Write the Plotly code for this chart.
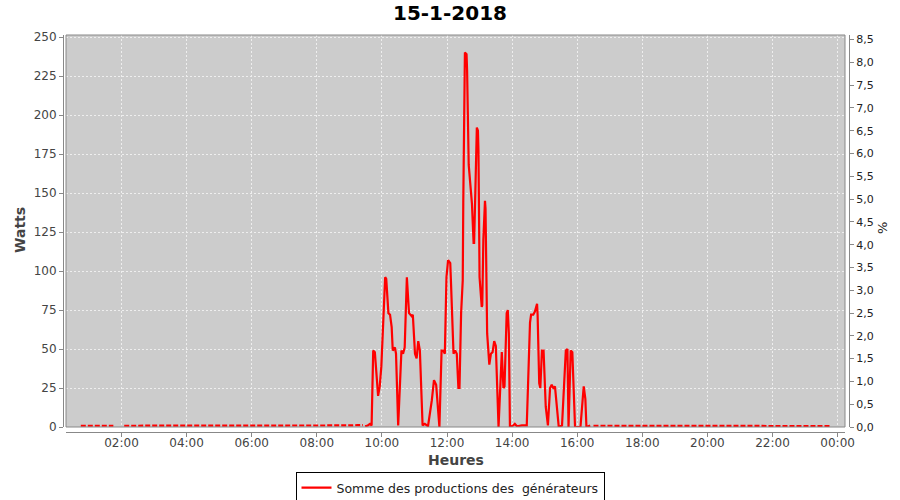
import pandas as pd
import plotly.graph_objects as go

# ---------------- data ----------------
day_times = ["09:29","09:34","09:38","09:41","09:44","09:47","09:53","09:56","09:59","10:03",
             "10:06","10:08","10:12","10:15","10:18","10:20","10:24","10:26","10:30","10:36",
             "10:39","10:42","10:46","10:50","10:55","10:57","11:01","11:04","11:07","11:10",
             "11:15","11:19","11:25","11:32","11:36","11:40","11:46","11:50","11:53","11:56",
             "11:59","12:02","12:06","12:07","12:10","12:12","12:15","12:18","12:21","12:23",
             "12:26","12:29","12:30","12:33","12:36","12:37","12:40","12:44","12:46","12:49",
             "12:50","12:54","12:55","12:57","12:58","13:00","13:02","13:04","13:05","13:07",
             "13:10","13:11","13:14","13:16","13:18","13:21","13:24","13:27","13:30","13:35",
             "13:41","13:44","13:46","13:50","13:52","13:54","13:56","14:02","14:05","14:09",
             "14:18","14:27","14:33","14:35","14:39","14:42","14:46","14:47","14:50","14:52",
             "14:55","14:58","15:02","15:06","15:10","15:13","15:16","15:19","15:26","15:32",
             "15:39","15:42","15:44","15:48","15:51","15:56","16:06","16:12","16:15","16:17",
             "16:24"]
day_watts = [0.5, 1, 2, 1, 49, 48, 20, 26, 39, 70,
             96, 95, 73, 72, 64, 49, 51, 47, 1, 49,
             47, 51, 96, 73, 71, 72, 47, 44, 55, 49,
             1, 2, 0.5, 17, 30, 27, 0, 49, 49, 47,
             96, 107, 105, 96, 56, 47, 49, 47, 25, 25,
             73, 94, 144, 240, 239, 229, 168, 152, 143, 118,
             118, 177, 192, 190, 177, 96, 83, 77, 78, 120,
             145, 140, 60, 47, 40, 47, 48, 55, 52, 0,
             48, 25, 26, 73, 75, 60, 0, 1, 2, 0.5,
             1, 1, 67, 72, 72, 74, 79, 72, 28, 25,
             49, 49, 13, 1, 25, 27, 25, 26, 0, 1,
             49, 50, 0, 49, 48, 0, 0, 26, 18, 0,
             1]

# night baseline (10-minute readings, near zero)
morning_times = pd.date_range("2018-01-15 00:45", "2018-01-15 09:25", freq="10min")
morning_watts = [0.8, 0.8, 0.8, 0.8, 0.8, 0.8, 0.8, None, 0.8, 0.8,
                 0.8, 0.8, 0.8, 0.8, 0.8, 0.8, 0.8, 0.8, 0.8, 0.8,
                 0.8, 0.8, 0.8, 0.8, 0.8, 0.8, 0.8, 0.8, 0.8, 0.8,
                 0.8, 0.8, 0.6, 0.6, 0.6, 0.6, 0.6, 0.6, 0.6, 0.6,
                 0.6, 0.6, 0.6, 0.6, 0.8, 0.8, 0.8, 0.8, 0.8, 0.8,
                 1.0, 1.2, 1.2]
evening_times = pd.date_range("2018-01-15 16:30", "2018-01-15 23:45", freq="15min")
evening_watts = [0.8, 0.8, 0.8, 0.8, 0.8, 0.8, 0.8, 0.8, 0.8, 0.8,
                 0.8, 0.8, 0.8, 0.8, 0.8, 0.8, 0.8, 0.8, 0.8, 0.8,
                 0.8, 0.8, 0.8, 0.8, 0.8, 0.8, 0.8, 0.8, 0.6, 0.6]

series_name = "Somme des productions des  générateurs"
title_text = "15-1-2018"

y_ticks = [0, 25, 50, 75, 100, 125, 150, 175, 200, 225, 250]
y2_ticks = [0, 0.5, 1, 1.5, 2, 2.5, 3, 3.5, 4, 4.5, 5, 5.5, 6, 6.5, 7, 7.5, 8, 8.5]

day_x = pd.to_datetime(["2018-01-15 " + t for t in day_times])

# ---------------- figure ----------------
FONT = "DejaVu Sans"
RED = "#ff0000"
AX = "#888888"
TXT = "#444444"

fig = go.Figure()
fig.add_trace(go.Scatter(x=morning_times, y=morning_watts[:len(morning_times)], mode="lines",
                         line=dict(color=RED, width=2.2, dash="5px,2px"),
                         showlegend=False, hoverinfo="skip", connectgaps=False))
fig.add_trace(go.Scatter(x=evening_times, y=evening_watts, mode="lines",
                         line=dict(color=RED, width=2.2, dash="5px,2px"),
                         showlegend=False, hoverinfo="skip"))
fig.add_trace(go.Scatter(x=day_x, y=day_watts, mode="lines", name=series_name,
                         line=dict(color=RED, width=2.2)))
fig.add_trace(go.Scatter(x=[day_x[0]], y=[None], yaxis="y2", mode="lines",
                         showlegend=False, hoverinfo="skip"))

# plot area geometry (pixels): x 66..845, y 35..427 ; paper 60..850 x 30..434
fig.update_layout(
    width=900, height=500,
    margin=dict(l=60, r=50, t=30, b=66, autoexpand=False),
    paper_bgcolor="white",
    plot_bgcolor="#cccccc",
    separators=", ",
    font=dict(family=FONT, size=12, color=TXT),
    title=dict(text=title_text, x=0.5, xanchor="center", xref="container",
               y=1 - 13 / 500, yanchor="middle", yref="container",
               font=dict(family=FONT, size=20, color="black", weight="bold")),
    xaxis=dict(
        domain=[6 / 790, 785 / 790],
        anchor="free", position=2.5 / 404,
        type="date",
        range=["2018-01-15 00:17:42", "2018-01-16 00:13:37"],
        tickvals=pd.date_range("2018-01-15 02:00", "2018-01-16 00:00", freq="2h"),
        tickformat="%H:%M",
        showline=True, linecolor=AX, linewidth=1,
        ticks="outside", ticklen=4, tickcolor=AX,
        ticklabelstandoff=-4,
        showgrid=True, gridcolor="#eeeeee", gridwidth=1, griddash="2px,2px",
        zeroline=False, automargin=False,
        tickfont=dict(family=FONT, size=12, color=TXT),
    ),
    yaxis=dict(
        domain=[7 / 404, 399 / 404],
        anchor="free", position=3 / 790,
        range=[0, 251.3],
        tickvals=y_ticks,
        showline=True, linecolor=AX, linewidth=1,
        ticks="outside", ticklen=4, tickcolor=AX,
        showgrid=True, gridcolor="#eeeeee", gridwidth=1, griddash="2px,2px",
        zeroline=False, automargin=False,
        tickfont=dict(family=FONT, size=12, color=TXT),
    ),
    yaxis2=dict(
        overlaying="y", side="right",
        anchor="free", position=789 / 790,
        range=[0, 8.6],
        tickvals=y2_ticks,
        tickformat=".1f",
        showline=True, linecolor=AX, linewidth=1,
        ticks="outside", ticklen=4, tickcolor=AX,
        showgrid=False, zeroline=False, automargin=False,
        tickfont=dict(family=FONT, size=11, color="#222222"),
    ),
    legend=dict(
        orientation="h", x=(450 - 60) / 790, xanchor="center",
        y=(434 - 472) / 404, yanchor="top",
        bordercolor="black", borderwidth=1, bgcolor="white",
        font=dict(family=FONT, size=12.5, color="#222222"),
        itemwidth=30,
    ),
    shapes=[dict(type="rect", xref="x domain", yref="y domain", x0=0, x1=1, y0=0, y1=1,
                 line=dict(color=AX, width=1), fillcolor="rgba(0,0,0,0)", layer="above")],
    annotations=[
        dict(text="Watts", xref="paper", yref="paper", x=(20 - 60) / 790, y=(434 - 230) / 404,
             textangle=-90, showarrow=False, xanchor="center", yanchor="middle",
             font=dict(family=FONT, size=14, color=TXT, weight="bold")),
        dict(text="%", xref="paper", yref="paper", x=(882 - 60) / 790, y=(434 - 228) / 404,
             textangle=-90, showarrow=False, xanchor="center", yanchor="middle",
             font=dict(family=FONT, size=13, color="#222222")),
        dict(text="Heures", xref="paper", yref="paper", x=(456 - 60) / 790, y=(434 - 460) / 404,
             showarrow=False, xanchor="center", yanchor="middle",
             font=dict(family=FONT, size=14, color=TXT, weight="bold")),
    ],
)

fig.write_html("out.html", config={"displayModeBar": False},
               post_script="document.body.style.margin='0px';document.body.style.padding='0px';")
